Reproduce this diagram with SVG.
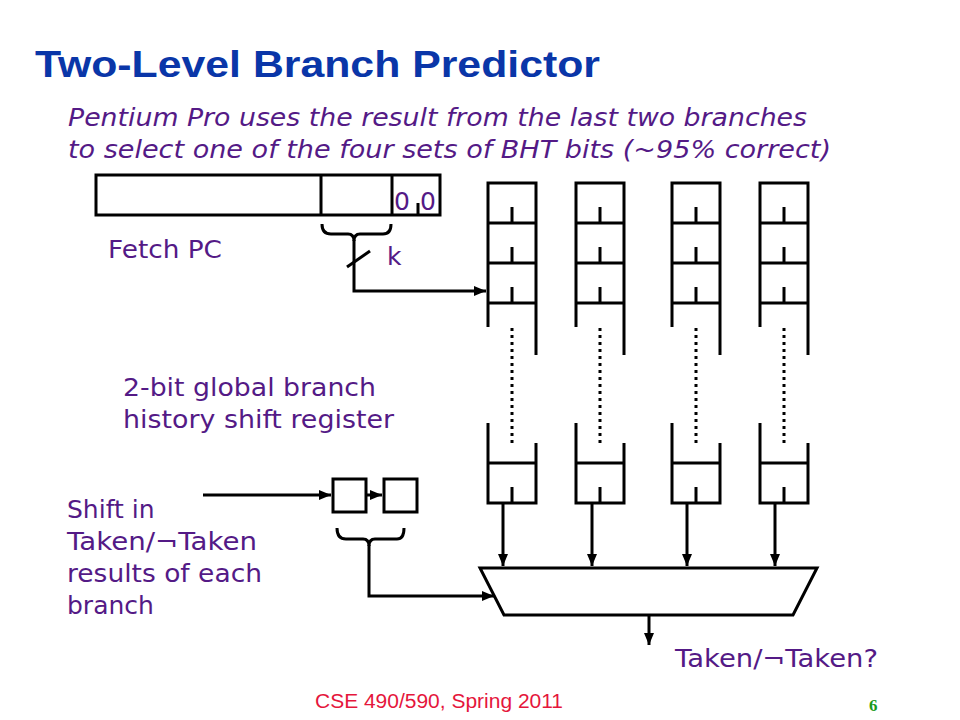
<svg xmlns="http://www.w3.org/2000/svg" xmlns:xlink="http://www.w3.org/1999/xlink" width="960" height="720" viewBox="0 0 960 720">
<style>
.ln{fill:none;stroke:#000;stroke-width:3}
.bx{fill:#fff;stroke:#000;stroke-width:3}
.dot{fill:none;stroke:#000;stroke-width:3;stroke-dasharray:3 4}
.tx{font-family:"DejaVu Sans",Verdana,sans-serif;fill:#541a86;font-size:25px}
.it{font-style:italic;font-size:24px}
.title{font-family:"Liberation Sans",Arial,sans-serif;font-weight:bold;fill:#0a36a8;font-size:37px}
.foot{font-family:"Liberation Sans",Arial,sans-serif;fill:#e5163c;font-size:20px}
.num{font-family:"Liberation Serif","Times New Roman",serif;font-weight:bold;fill:#1a9a1a;font-size:17px}
</style>
<defs>
<marker id="ah" markerUnits="userSpaceOnUse" markerWidth="13" markerHeight="11" refX="12" refY="5" orient="auto">
<path d="M0,0 L12,5 L0,10 z" fill="#000"/>
</marker>
<g id="col">
<path class="ln" d="M0,144 V0 H48 V172"/>
<path class="ln" d="M0,40 H48 M0,80 H48 M0,120 H48"/>
<path class="ln" d="M24,24 V40 M24,64 V80 M24,104 V120"/>
<line class="dot" x1="24" y1="145" x2="24" y2="260"/>
<path class="ln" d="M0,240 V320 H48 V260"/>
<path class="ln" d="M0,280 H48 M24,304 V320"/>
</g>
</defs>
<rect width="960" height="720" fill="#fff"/>
<g id="title">
<text class="title" x="35" y="77" textLength="565" lengthAdjust="spacingAndGlyphs">Two-Level Branch Predictor</text>
</g>
<g id="subtitle">
<text class="tx it" x="68" y="126" textLength="739" lengthAdjust="spacingAndGlyphs">Pentium Pro uses the result from the last two branches</text>
<text class="tx it" x="68" y="158" textLength="763" lengthAdjust="spacingAndGlyphs">to select one of the four sets of BHT bits (~95% correct)</text>
</g>
<g id="fetch-pc">
<rect class="bx" x="96" y="175" width="344" height="40"/>
<path class="ln" d="M321,175 V215 M392,175 V215 M418,203 V215"/>
<text class="tx" x="394" y="210" font-size="22">0</text>
<text class="tx" x="420" y="210" font-size="22">0</text>
<text class="tx" x="108" y="258" textLength="114" lengthAdjust="spacingAndGlyphs">Fetch PC</text>
<path class="ln" d="M322,224 Q322,234 331,234 H348 Q354,234 354,241 Q354,234 360,234 H383 Q391,234 391,224"/>
<line class="ln" x1="347" y1="267" x2="370" y2="251"/>
<text class="tx" x="387" y="265">k</text>
</g>
<g id="bht-0"><use xlink:href="#col" x="488" y="183"/></g>
<g id="bht-1"><use xlink:href="#col" x="576" y="183"/></g>
<g id="bht-2"><use xlink:href="#col" x="672" y="183"/></g>
<g id="bht-3"><use xlink:href="#col" x="760" y="183"/></g>
<g id="ghr-label">
<text class="tx" x="123" y="396" textLength="253" lengthAdjust="spacingAndGlyphs">2-bit global branch</text>
<text class="tx" x="123" y="428" textLength="271" lengthAdjust="spacingAndGlyphs">history shift register</text>
</g>
<g id="shift-register">
<rect class="bx" x="333" y="479" width="33" height="33"/>
<rect class="bx" x="384" y="479" width="33" height="33"/>
<path class="ln" d="M337,528 Q337,539 346,539 H363 Q369,539 369,546 Q369,539 375,539 H397 Q404,539 404,528"/>
</g>
<g id="shift-in-label">
<text class="tx" x="67" y="518">Shift in</text>
<text class="tx" x="67" y="550" textLength="190" lengthAdjust="spacingAndGlyphs">Taken/¬Taken</text>
<text class="tx" x="67" y="582" textLength="195" lengthAdjust="spacingAndGlyphs">results of each</text>
<text class="tx" x="67" y="614">branch</text>
</g>
<g id="mux">
<polygon class="bx" points="480,568 817,568 793,615 504,615"/>
</g>
<g id="output-label">
<text class="tx" x="675" y="667" textLength="203" lengthAdjust="spacingAndGlyphs">Taken/¬Taken?</text>
</g>
<g id="connectors">
<path class="ln" d="M354,240 V291 H486" marker-end="url(#ah)"/>
<path class="ln" d="M203,495 H331" marker-end="url(#ah)"/>
<path class="ln" d="M366,495 H382" marker-end="url(#ah)"/>
<path class="ln" d="M369,545 V596 H494" marker-end="url(#ah)"/>
<path class="ln" d="M503,503 V566" marker-end="url(#ah)"/>
<path class="ln" d="M592,503 V566" marker-end="url(#ah)"/>
<path class="ln" d="M687,503 V566" marker-end="url(#ah)"/>
<path class="ln" d="M775,503 V566" marker-end="url(#ah)"/>
<path class="ln" d="M649,615 V645" marker-end="url(#ah)"/>
</g>
<g id="footer">
<text class="foot" x="315" y="708" textLength="248" lengthAdjust="spacingAndGlyphs">CSE 490/590, Spring 2011</text>
<text class="num" x="869" y="711">6</text>
</g>
</svg>
